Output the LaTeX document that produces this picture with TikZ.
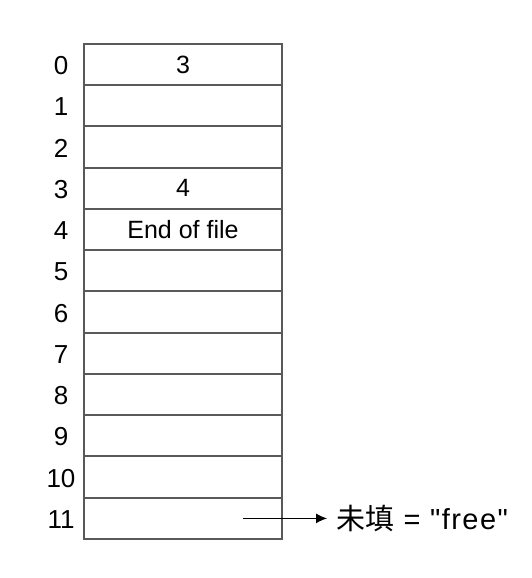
\documentclass[tikz,border=0pt]{standalone}
\usepackage{fontspec}
\setmainfont{Liberation Sans}
\newfontfamily\plainfont{Liberation Sans}[LetterSpace=5]
\newfontfamily\cjk{Noto Sans CJK SC}
\usetikzlibrary{positioning,arrows.meta}
\begin{document}
\begin{tikzpicture}[x=1pt, y=-1pt, >={Latex[length=11pt,width=10pt]},
    font=\fontsize{25}{28}\selectfont,
    cell/.style={draw=black!65, line width=2pt, minimum width=198pt, minimum height=41.25pt, inner sep=0pt, outer sep=0pt},
    idx/.style={font=\fontsize{26}{28}\selectfont}]
\useasboundingbox (0,0) rectangle (532,578);
% blocks of the table
\foreach \i/\t in {0/3, 1/, 2/, 3/4, 4/End of file, 5/, 6/, 7/, 8/, 9/, 10/, 11/}{
    \node[cell] (c\i) at (183,{64.6+41.25*\i}) {\t};
    \node[idx] (n\i) at (61,{65.6+41.25*\i}) {\i};
}
\coordinate (s) at (243,518.4);
\node[anchor=west, inner sep=0pt, font=\fontsize{29}{32}\plainfont] (free) at (336,518.4) {{\cjk 未填} = "free"};
\draw[line width=1pt, ->] (s) -- ([xshift=-9pt]free.west);
\end{tikzpicture}
\end{document}
